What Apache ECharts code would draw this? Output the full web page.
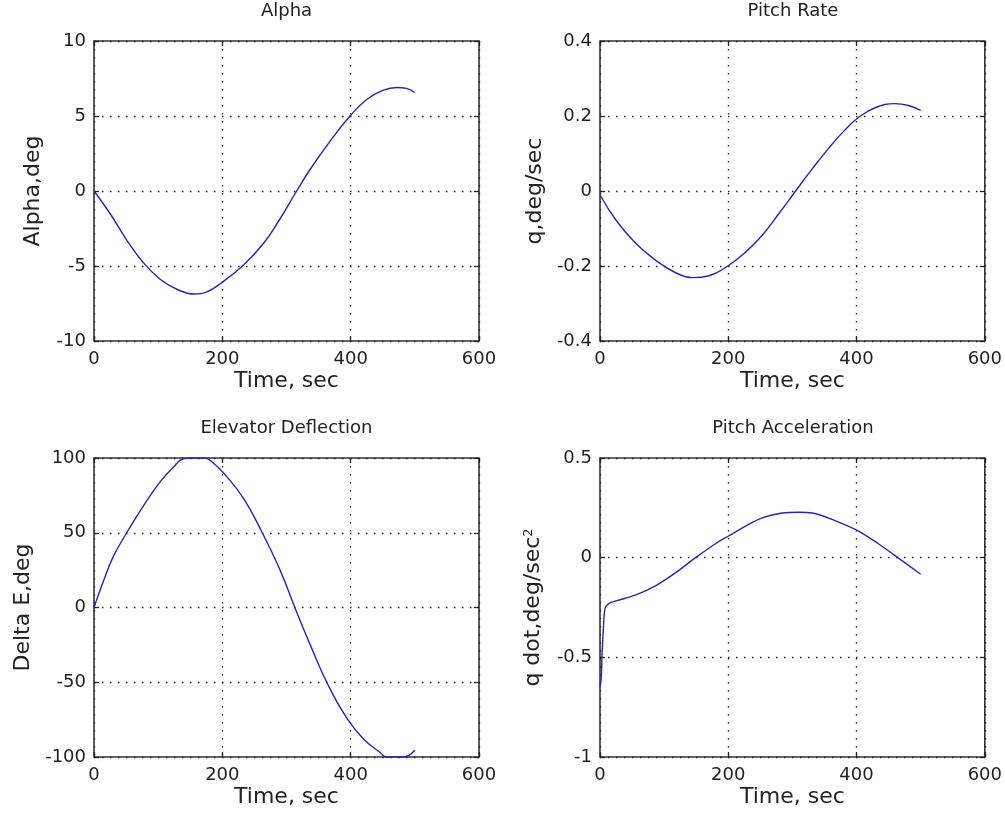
<!DOCTYPE html>
<html>
<head>
<meta charset="utf-8">
<script src="https://cdn.jsdelivr.net/npm/echarts@6/dist/echarts.min.js"></script>
<style>
  html, body { margin: 0; padding: 0; background: #fff; }
  #main { width: 1005px; height: 817px; }
</style>
</head>
<body>
<div id="main"></div>
<script>
// x ticks shared by all four plots
var timeTicks = [0, 200, 400, 600];

// Alpha
var alphaT = [0, 25, 51, 77, 103, 129, 157, 176, 198, 233, 264, 290, 313, 337, 368, 399, 425, 451, 472, 487, 500];
var alphaV = [0, -1.5, -3.27, -4.78, -5.88, -6.55, -6.87, -6.72, -6.15, -4.93, -3.5, -1.85, -0.2, 1.45, 3.33, 5.0, 6.1, 6.72, 6.9, 6.84, 6.57];
var alphaTicks = [-10, -5, 0, 5, 10];

// Pitch rate
var rateT = [0, 25, 56, 87, 118, 144, 170, 201, 227, 253, 279, 305, 330, 356, 382, 403, 429, 460, 481, 500];
var rateV = [-0.01, -0.078, -0.14, -0.185, -0.218, -0.231, -0.226, -0.198, -0.163, -0.118, -0.06, 0, 0.057, 0.113, 0.163, 0.196, 0.222, 0.233, 0.228, 0.215];
var rateTicks = [-0.4, -0.2, 0, 0.2, 0.4];

// Elevator deflection
var elevT = [0, 15, 30, 51, 77, 103, 124, 139, 150, 173, 185, 202, 233, 261, 290, 313, 337, 365, 394, 420, 446, 456, 482, 500];
var elevV = [0, 18, 34, 50, 68, 84, 94, 99.5, 100, 100, 97, 90, 73, 51, 25, 0, -25, -52, -74, -88, -97, -100, -100, -95.5];
var elevTicks = [-100, -50, 0, 50, 100];

// Pitch acceleration
var accT = [0, 2, 3, 5, 7, 9, 15, 25, 56, 87, 118, 149, 180, 201, 227, 253, 284, 310, 331, 367, 401, 434, 460, 500];
var accV = [-0.65, -0.6, -0.5, -0.37, -0.27, -0.245, -0.228, -0.217, -0.187, -0.14, -0.075, 0, 0.07, 0.11, 0.158, 0.2, 0.224, 0.228, 0.224, 0.185, 0.137, 0.07, 0.01, -0.083];
var accTicks = [-1, -0.5, 0, 0.5];

var font = 'DejaVu Sans';
var ink = '#222';

function pairs(t, v) {
  return t.map(function (x, i) { return [x, v[i]]; });
}

// subplot boxes
var boxes = [
  { left: 94, top: 41, width: 385, height: 300 },
  { left: 600, top: 41, width: 386, height: 300 },
  { left: 94, top: 458, width: 385, height: 299 },
  { left: 600, top: 458, width: 386, height: 299 }
];

var plots = [
  { title: 'Alpha', ylabel: 'Alpha,deg', gap: 50, smooth: 0.45, ticks: alphaTicks, data: pairs(alphaT, alphaV) },
  { title: 'Pitch Rate', ylabel: 'q,deg/sec', gap: 54, smooth: 0.45, ticks: rateTicks, data: pairs(rateT, rateV) },
  { title: 'Elevator Deflection', ylabel: 'Delta E,deg', gap: 60, smooth: 0.45, ticks: elevTicks, data: pairs(elevT, elevV) },
  { title: 'Pitch Acceleration', ylabel: 'q dot,deg/sec{sup|2}', gap: 56, smooth: 0.35, ticks: accTicks, data: pairs(accT, accV) }
];

var dotted = { color: ink, width: 1.3, type: [1.5, 6.5] };
var tickIn = { show: true, inside: true, length: 5, lineStyle: { color: ink, width: 1.3 } };
var noLine = { show: false, onZero: false };

var grid = [], xAxis = [], yAxis = [], series = [], graphic = [];

plots.forEach(function (p, i) {
  var b = boxes[i];
  grid.push({
    left: b.left, top: b.top, width: b.width, height: b.height,
    show: true, borderColor: '#333', borderWidth: 1.6, backgroundColor: '#fff'
  });
  var xmin = timeTicks[0], xmax = timeTicks[timeTicks.length - 1];
  var xstep = timeTicks[1] - timeTicks[0];
  var ymin = p.ticks[0], ymax = p.ticks[p.ticks.length - 1];
  var ystep = p.ticks[1] - p.ticks[0];

  // bottom x axis with labels and grid
  xAxis.push({
    gridIndex: i, type: 'value', min: xmin, max: xmax, interval: xstep,
    position: 'bottom',
    name: 'Time, sec', nameLocation: 'middle', nameGap: 29,
    nameTextStyle: { fontFamily: font, fontSize: 22, color: ink },
    axisLine: noLine,
    axisTick: tickIn,
    axisLabel: { fontFamily: font, fontSize: 18, color: ink, margin: 9 },
    splitLine: { show: true, lineStyle: dotted }
  });
  // top x axis, ticks only
  xAxis.push({
    gridIndex: i, type: 'value', min: xmin, max: xmax, interval: xstep,
    position: 'top',
    axisLine: noLine, axisTick: tickIn,
    axisLabel: { show: false }, splitLine: { show: false }
  });

  var nameStyle = {
    fontFamily: font, fontSize: 22, color: ink,
    rich: { sup: { fontFamily: font, fontSize: 13, color: ink, verticalAlign: 'top', padding: [0, 0, 9, 0] } }
  };
  yAxis.push({
    gridIndex: i, type: 'value', min: ymin, max: ymax, interval: ystep,
    position: 'left',
    name: p.ylabel, nameLocation: 'middle', nameGap: p.gap, nameRotate: 90,
    nameTextStyle: nameStyle,
    axisLine: noLine,
    axisTick: tickIn,
    axisLabel: { fontFamily: font, fontSize: 18, color: ink, margin: 8 },
    splitLine: { show: true, lineStyle: dotted }
  });
  yAxis.push({
    gridIndex: i, type: 'value', min: ymin, max: ymax, interval: ystep,
    position: 'right',
    axisLine: noLine, axisTick: tickIn,
    axisLabel: { show: false }, splitLine: { show: false }
  });

  series.push({
    type: 'line',
    xAxisIndex: i * 2, yAxisIndex: i * 2,
    data: p.data,
    showSymbol: false,
    smooth: p.smooth,
    lineStyle: { color: '#2626b0', width: 1.4 },
    animation: false
  });

  // subplot title, centred over its box
  graphic.push({
    type: 'text',
    x: b.left + b.width / 2, y: b.top - 39,
    style: {
      text: p.title, align: 'center', verticalAlign: 'top',
      font: '18px "' + font + '"', fill: ink
    }
  });
});

var chart = echarts.init(document.getElementById('main'));
chart.setOption({
  animation: false,
  backgroundColor: '#fff',
  grid: grid,
  xAxis: xAxis,
  yAxis: yAxis,
  series: series,
  graphic: graphic
});
</script>
</body>
</html>
